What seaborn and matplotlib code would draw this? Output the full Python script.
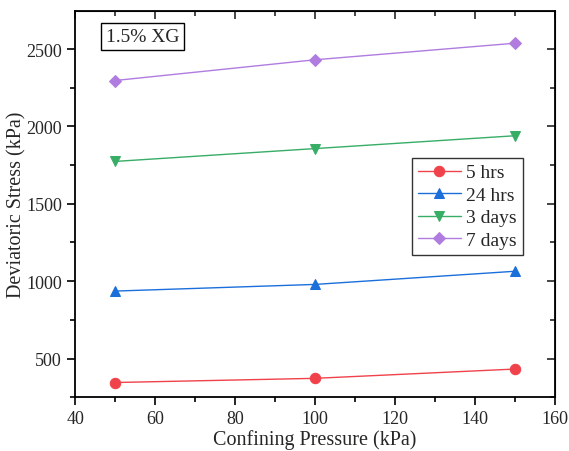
import matplotlib
matplotlib.use("Agg")
import numpy as np
import pandas as pd
import seaborn as sns
import matplotlib.pyplot as plt
from matplotlib.ticker import MultipleLocator

# Données
pressure = [50, 100, 150]
hrs5 = [345, 372, 432]
hrs24 = [936, 979, 1064]
days3 = [1774, 1857, 1940]
days7 = [2297, 2431, 2538]
series = ["5 hrs", "24 hrs", "3 days", "7 days"]
colors = ["#F0424A", "#1B6FDB", "#37AD66", "#B07CE0"]
markers = ["o", "^", "v", "D"]

df = pd.DataFrame({
    "pressure": pressure * 4,
    "stress": hrs5 + hrs24 + days3 + days7,
    "serie": [s for s in series for _ in pressure],
})

sns.set_style("ticks")
plt.rcParams["font.family"] = ["Liberation Serif", "DejaVu Serif"]

fig = plt.figure(figsize=(5.69, 4.52), dpi=100)
ax = fig.add_axes([0.132, 0.119, 0.843, 0.854])

for s, c, m in zip(series, colors, markers):
    sub = df[df["serie"] == s]
    sns.lineplot(data=sub, x="pressure", y="stress", color=c, marker=m,
                 markersize=7.5 if m != "D" else 6.5, markeredgecolor=c,
                 linewidth=1, label=s, ax=ax)

ax.set_xlim(40, 160)
ax.set_ylim(250, 2745)
ax.xaxis.set_major_locator(MultipleLocator(20))
ax.xaxis.set_minor_locator(MultipleLocator(10))
ax.yaxis.set_major_locator(MultipleLocator(500))
ax.yaxis.set_minor_locator(MultipleLocator(250))
ax.tick_params(which="both", direction="out", labelsize=13, width=1.2, color="black")
ax.tick_params(which="major", length=6)
ax.tick_params(which="minor", length=3.5)
for sp in ax.spines.values():
    sp.set_linewidth(1.3)
    sp.set_color("black")

# ticks miroirs vers l'intérieur
ax2 = ax.secondary_xaxis("top")
ax2.xaxis.set_major_locator(MultipleLocator(20))
ax2.xaxis.set_minor_locator(MultipleLocator(10))
ax2.tick_params(which="both", direction="in", labeltop=False, width=1.2)
ax2.tick_params(which="major", length=6)
ax2.tick_params(which="minor", length=3.5)
ax3 = ax.secondary_yaxis("right")
ax3.yaxis.set_major_locator(MultipleLocator(500))
ax3.yaxis.set_minor_locator(MultipleLocator(250))
ax3.tick_params(which="both", direction="in", labelright=False, width=1.2)
ax3.tick_params(which="major", length=6)
ax3.tick_params(which="minor", length=3.5)

ax.set_xlabel("Confining Pressure (kPa)", fontsize=14.5, labelpad=1)
ax.set_ylabel("Deviatoric Stress (kPa)", fontsize=14.5, labelpad=0)

leg = ax.legend(loc="upper left", bbox_to_anchor=(0.682, 0.645), fontsize=14,
                frameon=True, fancybox=False, edgecolor="black",
                handlelength=2.2, borderpad=0.3, labelspacing=0.25,
                handletextpad=0.3)
leg.get_frame().set_linewidth(1)

ax.text(0.064, 0.935, "1.5% XG", transform=ax.transAxes, fontsize=14,
        va="center", ha="left",
        bbox=dict(boxstyle="square,pad=0.25", fc="white", ec="black", lw=1))

fig.savefig("out.png", dpi=100)
